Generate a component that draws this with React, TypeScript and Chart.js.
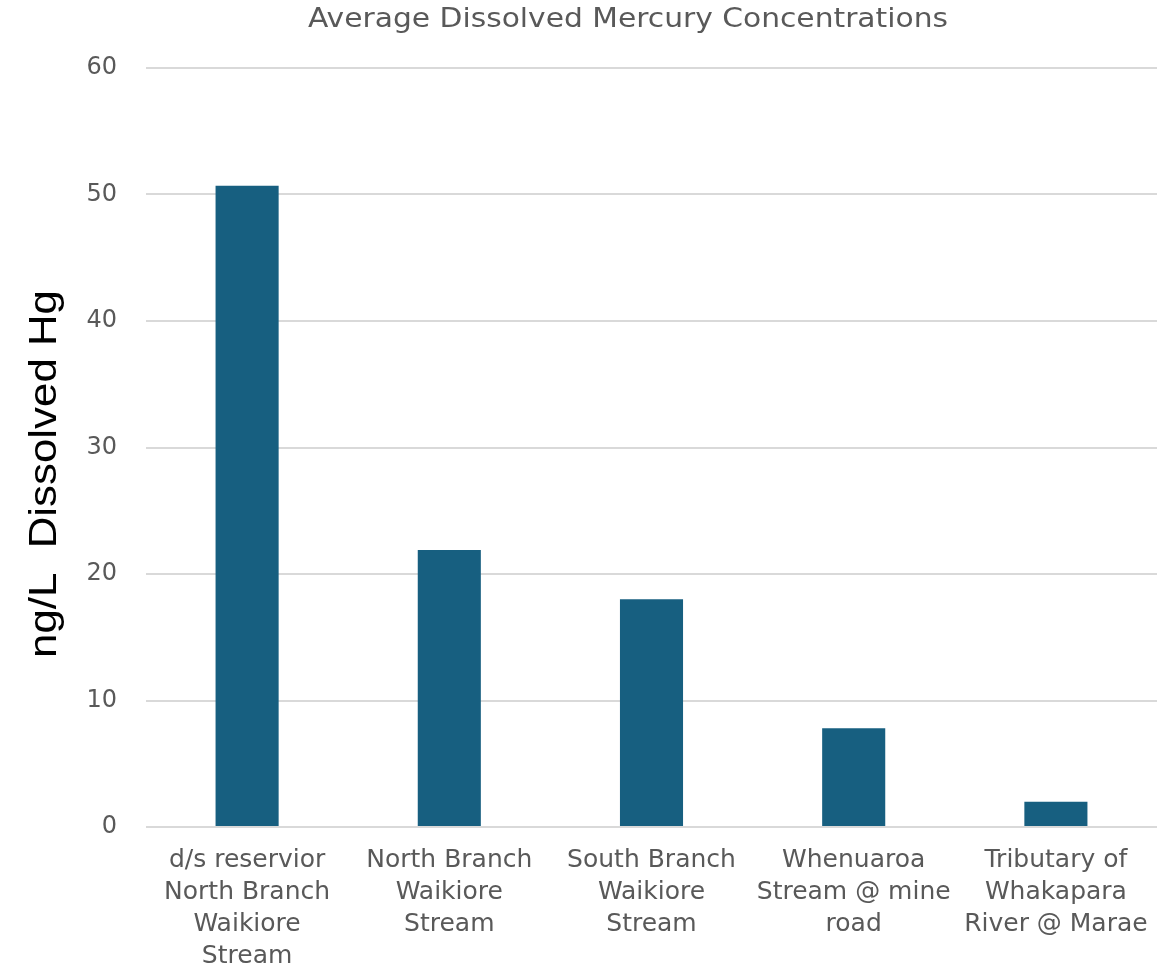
import React, { useEffect, useRef } from "react";
import { Chart, registerables } from "chart.js";

Chart.register(...registerables);

const chartTitle = "Average Dissolved Mercury Concentrations";
const yAxisTitle = "ng/L  Dissolved Hg";

const sites: string[][] = [
  ["d/s reservior", "North Branch", "Waikiore", "Stream"],
  ["North Branch", "Waikiore", "Stream"],
  ["South Branch", "Waikiore", "Stream"],
  ["Whenuaroa", "Stream @ mine", "road"],
  ["Tributary of", "Whakapara", "River @ Marae"],
];

const dissolvedHg: number[] = [50.7, 21.9, 18.0, 7.8, 2.0];

const yMin = 0;
const yMax = 60;
const yStep = 10;

const BAR_COLOR = "#175f80";
const GRID_COLOR = "#d9d9d9";
const TEXT_GRAY = "#595959";

// Draws text centred at (0,0) of the current transform, stretched along its run to a given length.
function fitText(ctx: CanvasRenderingContext2D, text: string, length: number, across: number) {
  const w = ctx.measureText(text).width;
  ctx.scale(length / w, across);
  ctx.fillText(text, 0, 0);
}

// Draws the chart heading and the rotated y-axis caption.
const captionPlugin = {
  id: "captions",
  afterDraw(chart: Chart) {
    const { ctx } = chart;
    ctx.save();
    ctx.fillStyle = TEXT_GRAY;
    ctx.font = "26px 'DejaVu Sans', 'Liberation Sans', sans-serif";
    ctx.textAlign = "center";
    ctx.textBaseline = "middle";
    ctx.translate(628, 20);
    fitText(ctx, chartTitle, 640, 1);
    ctx.restore();

    ctx.save();
    ctx.fillStyle = "#000000";
    ctx.font = "38px 'Liberation Sans', Arial, sans-serif";
    ctx.textAlign = "center";
    ctx.textBaseline = "middle";
    ctx.translate(46, 474);
    ctx.rotate(-Math.PI / 2);
    fitText(ctx, yAxisTitle, 368, 1);
    ctx.restore();
  },
};

export default function App() {
  const canvasRef = useRef<HTMLCanvasElement | null>(null);

  useEffect(() => {
    if (!canvasRef.current) return;
    const chart = new Chart(canvasRef.current, {
      type: "bar",
      data: {
        labels: sites,
        datasets: [
          {
            data: dissolvedHg,
            backgroundColor: BAR_COLOR,
            borderWidth: 0,
            categoryPercentage: 1,
            barPercentage: 0.312,
          },
        ],
      },
      options: {
        animation: false,
        responsive: true,
        maintainAspectRatio: false,
        layout: { padding: { top: 68, right: 13, left: 0, bottom: 0 } },
        plugins: {
          legend: { display: false },
          tooltip: { enabled: false },
          title: { display: false },
        },
        scales: {
          x: {
            grid: { display: false, drawTicks: false },
            border: { display: false },
            ticks: {
              color: TEXT_GRAY,
              padding: 17,
              maxRotation: 0,
              autoSkip: false,
              font: {
                family: "'DejaVu Sans', 'Liberation Sans', sans-serif",
                size: 25,
                lineHeight: 1.28,
              },
            },
            afterFit(scale: any) {
              scale.height = 968 - 827;
            },
          },
          y: {
            min: yMin,
            max: yMax,
            grid: { color: GRID_COLOR, lineWidth: 2, drawTicks: false },
            border: { display: false },
            ticks: {
              stepSize: yStep,
              color: TEXT_GRAY,
              padding: 29,
              font: { family: "'DejaVu Sans', 'Liberation Sans', sans-serif", size: 24 },
            },
            afterFit(scale: any) {
              scale.width = 146;
            },
          },
        },
      },
      plugins: [captionPlugin],
    });
    return () => chart.destroy();
  }, []);

  return (
    <div
      style={{
        position: "fixed",
        left: 0,
        top: 0,
        width: 1170,
        height: 968,
        background: "#ffffff",
      }}
    >
      <canvas ref={canvasRef} />
    </div>
  );
}
